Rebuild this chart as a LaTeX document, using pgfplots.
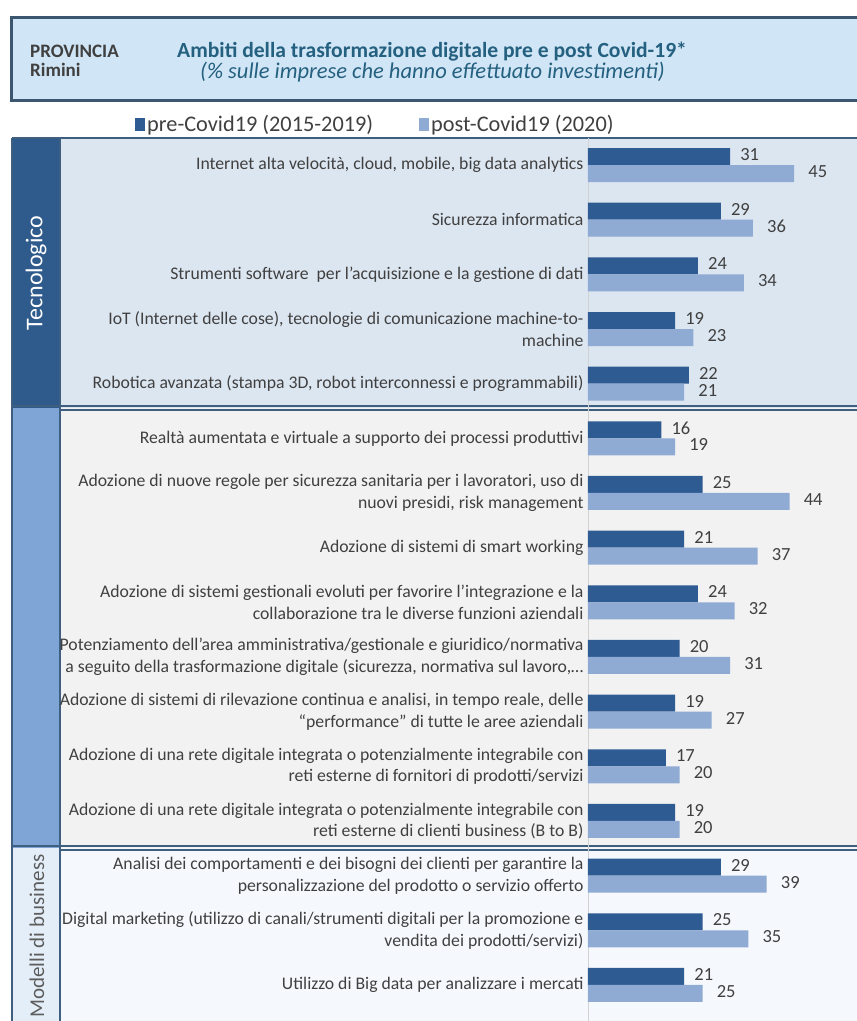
\documentclass[border=0pt]{standalone}
\usepackage{fontspec}
\setmainfont{Carlito}
\usepackage{pgfplots}
\pgfplotsset{compat=1.18}

\definecolor{preblue}{HTML}{2F5B93}
\definecolor{postblue}{HTML}{8FAAD3}
\definecolor{txt}{HTML}{404040}
\definecolor{titlefill}{HTML}{D0E5F5}
\definecolor{titleline}{HTML}{3C5670}
\definecolor{titletext}{HTML}{24607F}
\definecolor{sidedark}{HTML}{2E5A8C}
\definecolor{sidemid}{HTML}{7FA5D6}
\definecolor{sidelight}{HTML}{E4EEF8}
\definecolor{bgtec}{HTML}{DCE6F1}
\definecolor{bgmid}{HTML}{F2F2F2}
\definecolor{bglow}{HTML}{F5F9FD}
\definecolor{panelline}{HTML}{3E5F80}

\begin{document}
\begin{tikzpicture}[x=1pt,y=1pt]
\useasboundingbox (0,0) rectangle (857,1021);
\fill[white] (0,0) rectangle (857,1021);

% title box
\draw[line width=3pt, draw=titleline, fill=titlefill] (11,920) rectangle (875,1003);
\node[anchor=base west, inner sep=0pt, text=txt, font=\bfseries\fontsize{19}{22}\selectfont] at (30,963) {PROVINCIA};
\node[anchor=base west, inner sep=0pt, text=txt, font=\bfseries\fontsize{19}{22}\selectfont] at (30,944) {Rimini};
\node[anchor=base west, inner sep=0pt, text=titletext, font=\bfseries\fontsize{21.6}{25}\selectfont] at (177,963) {Ambiti della trasformazione digitale pre e post Covid-19*};
\node[anchor=base west, inner sep=0pt, text=titletext, font=\itshape\fontsize{22.5}{26}\selectfont] at (200,942) {(\% sulle imprese che hanno effettuato investimenti)};

% panel backgrounds
\fill[bgtec] (60,613) rectangle (857,883);
\fill[bgmid] (60,173) rectangle (857,613);
\fill[bglow] (60,0) rectangle (857,173);
\fill[sidedark] (12,613) rectangle (60,883);
\fill[sidemid] (12,173) rectangle (60,613);
\fill[sidelight] (12,0) rectangle (60,173);
\draw[panelline, line width=1.5pt] (12,883) -- (857,883);
\draw[panelline, line width=1.5pt] (12,0) -- (12,883);
\draw[panelline, line width=1.2pt] (60,0) -- (60,883);
\foreach \yy in {613,173} {
  \draw[panelline, line width=1.2pt] (12,\yy+2) -- (857,\yy+2);
  \draw[panelline, line width=1.2pt] (60,\yy-2) -- (857,\yy-2);
}
\node[rotate=90, text=white, font=\fontsize{24}{28}\selectfont] at (36,748) {Tecnologico};
\begin{scope}
\clip (12,0) rectangle (60,171);
\node[rotate=90, anchor=west, inner sep=0pt, text=txt!85, font=\fontsize{21}{25}\selectfont] at (37,3) {Modelli di business};
\end{scope}

\begin{axis}[
  at={(588pt,0pt)}, anchor=south west,
  scale only axis,
  width=269pt, height=883.3pt,
  xbar, bar width=17pt,
  xmin=0, xmax=58.7,
  ymin=-0.5, ymax=15.66,
  y dir=reverse,
  clip=false,
  axis x line=none,
  axis y line*=left,
  y axis line style={draw=gray!35, line width=0.8pt, -},
  ytick={0,...,15},
  major tick length=0pt,
  yticklabel style={align=right, text=txt, font=\fontsize{17.7}{21.6}\selectfont, xshift=-1pt},
  yticklabels={
    {Internet alta velocità, cloud, mobile, big data analytics},
    {Sicurezza informatica},
    {Strumenti software\ \ per l’acquisizione e la gestione di dati},
    {IoT (Internet delle cose), tecnologie di comunicazione machine-to-\\machine},
    {Robotica avanzata (stampa 3D, robot interconnessi e programmabili)},
    {Realtà aumentata e virtuale a supporto dei processi produttivi},
    {Adozione di nuove regole per sicurezza sanitaria per i lavoratori, uso di\\nuovi presidi, risk management},
    {Adozione di sistemi di smart working},
    {Adozione di sistemi gestionali evoluti per favorire l’integrazione e la\\collaborazione tra le diverse funzioni aziendali},
    {Potenziamento dell’area amministrativa/gestionale e giuridico/normativa\\a seguito della trasformazione digitale (sicurezza, normativa sul lavoro,…},
    {Adozione di sistemi di rilevazione continua e analisi, in tempo reale, delle\\“performance” di tutte le aree aziendali},
    {Adozione di una rete digitale integrata o potenzialmente integrabile con\\reti esterne di fornitori di prodotti/servizi},
    {Adozione di una rete digitale integrata o potenzialmente integrabile con\\reti esterne di clienti business (B to B)},
    {Analisi dei comportamenti e dei bisogni dei clienti per garantire la\\personalizzazione del prodotto o servizio offerto},
    {Digital marketing (utilizzo di canali/strumenti digitali per la promozione e\\vendita dei prodotti/servizi)},
    {Utilizzo di Big data per analizzare i mercati}
  },
  /pgf/number format/assume math mode=true,
  nodes near coords,
  nodes near coords style={text=txt, font=\fontsize{18.5}{22}\selectfont, inner sep=2pt},
  legend style={at={(-1.695,1.0155)}, anchor=west, draw=none, fill=none,
    legend columns=2, font=\fontsize{22.3}{26}\selectfont, text=txt,
    /tikz/every even column/.append style={column sep=44pt}},
  legend image code/.code={\fill[#1] (0pt,-6.5pt) rectangle (10pt,6.5pt);},
]
\addplot[draw=none, fill=preblue, bar shift=8.5pt,
  every node near coord/.append style={anchor=west, xshift=8pt, yshift=2pt}]
  coordinates {
    (31,0) (29,1) (24,2) (19,3) (22,4) (16,5) (25,6) (21,7)
    (24,8) (20,9) (19,10) (17,11) (19,12) (29,13) (25,14) (21,15)
  };
\addlegendentry{pre-Covid19 (2015-2019)}
\addplot[draw=none, fill=postblue, bar shift=-8.5pt,
  every node near coord/.append style={anchor=west, xshift=12pt, yshift=2pt}]
  coordinates {
    (45,0) (36,1) (34,2) (23,3) (21,4) (19,5) (44,6) (37,7)
    (32,8) (31,9) (27,10) (20,11) (20,12) (39,13) (35,14) (25,15)
  };
\addlegendentry{post-Covid19 (2020)}
\end{axis}
\end{tikzpicture}
\end{document}
